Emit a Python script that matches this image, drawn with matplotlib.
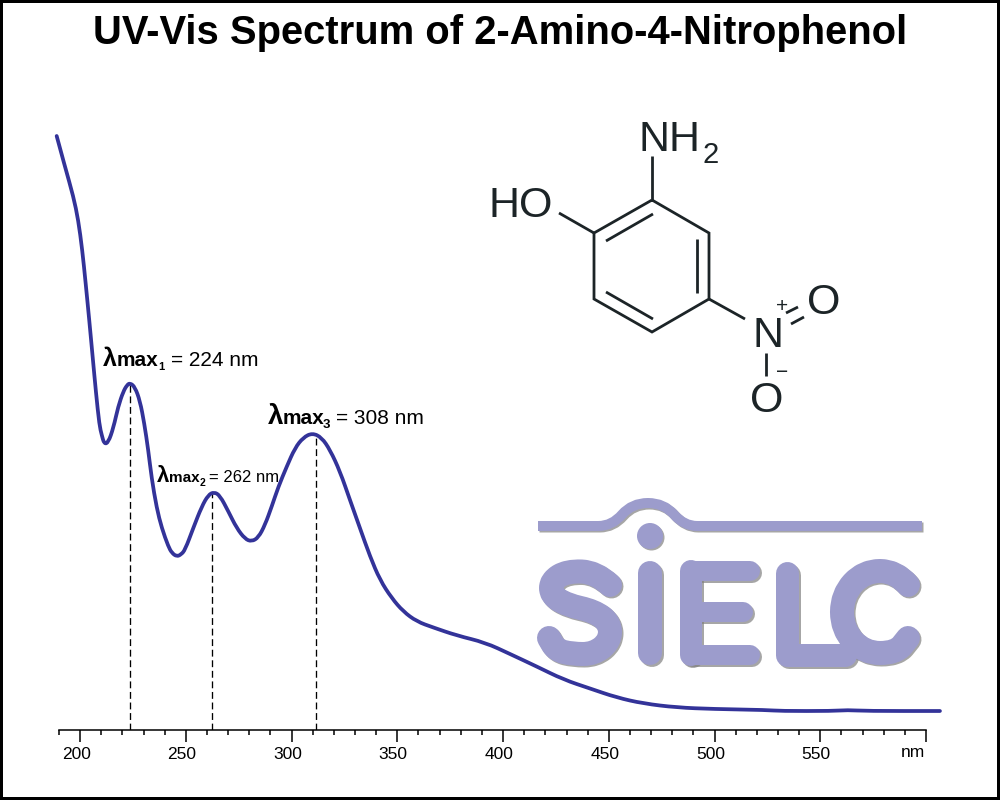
import matplotlib
matplotlib.use('Agg')
import matplotlib.pyplot as plt
from matplotlib.path import Path
from matplotlib.patches import PathPatch, Circle
from matplotlib.transforms import ScaledTranslation

plt.rcParams['font.family'] = ['Liberation Sans', 'DejaVu Sans']

# Spectrum
wavelength = [188.9, 192.8, 196.8, 199.1, 201.0, 202.6, 204.3, 205.9, 207.5, 209.1, 210.2, 211.4,
              213.3, 215.7, 218.0, 220.4, 222.2, 223.6, 225.9, 228.3, 230.3, 232.2, 233.8, 236.2,
              238.6, 241.7, 243.4, 245.7, 247.7, 249.6, 253.5, 257.5, 260.6, 263.3, 266.1, 270.1,
              274.0, 278.0, 281.1, 284.3, 287.4, 290.6, 293.7, 297.7, 301.6, 305.5, 309.8, 314.2,
              318.2, 322.9, 327.6, 332.3, 337.1, 341.8, 347.3, 352.8, 359.2, 367.0, 378.1, 391.5,
              403.3, 415.9, 428.5, 441.1, 453.7, 466.3, 482.1, 499.3, 524.8, 531.0, 556.0, 562.7,
              572.1, 606.6]
absorbance = [1.188, 1.127, 1.067, 1.020, 0.960, 0.894, 0.820, 0.747, 0.674, 0.610, 0.590, 0.572,
              0.575, 0.604, 0.647, 0.677, 0.690, 0.694, 0.686, 0.658, 0.614, 0.560, 0.504, 0.444,
              0.404, 0.367, 0.354, 0.347, 0.351, 0.360, 0.404, 0.447, 0.470, 0.476, 0.469, 0.437,
              0.404, 0.382, 0.377, 0.385, 0.410, 0.447, 0.486, 0.527, 0.564, 0.585, 0.594, 0.585,
              0.560, 0.517, 0.460, 0.404, 0.347, 0.300, 0.264, 0.237, 0.217, 0.205, 0.189, 0.175,
              0.152, 0.127, 0.101, 0.083, 0.065, 0.053, 0.045, 0.042, 0.040, 0.038, 0.038, 0.040,
              0.038, 0.038]
peak_x = [223.7, 262.5, 311.3]
peak_y = [0.692, 0.475, 0.592]
major_ticks = [200, 250, 300, 350, 400, 450, 500, 550, 600]
major_labels = ['200', '250', '300', '350', '400', '450', '500', '550', '']
minor_ticks = [190, 210, 220, 230, 240, 260, 270, 280, 290, 310, 320, 330, 340, 360, 370, 380,
               390, 410, 420, 430, 440, 460, 470, 480, 490, 510, 520, 530, 540, 560, 570, 580, 590]

BLUE = '#333399'
LOGO = '#9c9ccc'
INK = '#1c2427'


def smooth_path(points):
    # rounded path through the midpoints of the given points
    verts = [points[0]]
    codes = [Path.MOVETO]
    for i in range(1, len(points) - 1):
        nxt = points[i + 1]
        mid = ((points[i][0] + nxt[0]) / 2, (points[i][1] + nxt[1]) / 2)
        verts += [points[i], mid]
        codes += [Path.CURVE3, Path.CURVE3]
    verts.append(points[-1])
    codes.append(Path.LINETO)
    return Path(verts, codes)


fig = plt.figure(figsize=(10, 8), dpi=100, facecolor='white', edgecolor='black', linewidth=4.3)

# spectrum axes, only the bottom spine is shown
ax = fig.add_axes([0.059, 70 / 800, 0.867, 730 / 800])
ax.patch.set_visible(False)
ax.set_xlim(190, 600)
ax.set_ylim(0, 1.46)
for side in ['top', 'left', 'right']:
    ax.spines[side].set_visible(False)
ax.spines['bottom'].set_linewidth(1.1)
ax.yaxis.set_visible(False)
ax.set_xticks(major_ticks)
ax.set_xticklabels(major_labels, fontsize=12.5)
ax.set_xticks(minor_ticks, minor=True)
ax.tick_params(axis='x', which='major', length=8.6, width=1.1, pad=3.5)
ax.tick_params(axis='x', which='minor', length=3.8, width=1.1)

# numbers sit a little left of their ticks
shift = ScaledTranslation(-4 / 100, 0, fig.dpi_scale_trans)
for lab in ax.get_xticklabels():
    lab.set_transform(lab.get_transform() + shift)

ax.vlines(peak_x, 0, peak_y, colors='black', linestyles=(0, (5.2, 2.8)), linewidth=0.95)
ax.add_patch(PathPatch(smooth_path(list(zip(wavelength, absorbance))), fill=False, edgecolor=BLUE,
                       linewidth=2.7, capstyle='round', joinstyle='round', clip_on=False, zorder=4))

# overlay in pixel coordinates for the title, labels, structure and logo
ov = fig.add_axes([0, 0, 1, 1], zorder=3)
ov.set_xlim(0, 1000)
ov.set_ylim(800, 0)
ov.axis('off')

ov.text(500, 44, 'UV-Vis Spectrum of 2-Amino-4-Nitrophenol', ha='center', va='baseline',
        fontsize=28.8, fontweight='bold', color='black')
ov.text(925, 757, 'nm', ha='right', va='baseline', fontsize=12.5)


def put(x, y, s, size, weight='normal', color='black'):
    ov.text(x, y, s, fontsize=size, fontweight=weight, color=color, ha='left', va='baseline')


# lambda max labels, built from pieces
put(103, 366, 'λ', 18, 'bold')
put(117, 366, 'max', 15, 'bold')
put(158, 370, '1', 8, 'bold')
put(171, 366, '= 224 nm', 15)

put(157, 482, 'λ', 16, 'bold')
put(169, 482, 'max', 11, 'bold')
put(200, 486, '2', 7.5, 'bold')
put(209, 482, '= 262 nm', 12)

put(268, 424, 'λ', 20, 'bold')
put(283, 424, 'max', 15, 'bold')
put(323, 428, '3', 9.5, 'bold')
put(336, 424, '= 308 nm', 15)

# structure of the compound
bonds = [
    [(652, 200), (709, 233), (709, 299), (652, 332), (594, 299), (594, 233), (652, 200)],
    [(606, 241), (653, 214)],
    [(697, 239), (697, 293)],
    [(606, 292), (653, 319)],
    [(652, 200), (652, 156)],
    [(594, 233), (559, 213)],
    [(709, 299), (745, 319)],
    [(786, 313), (798, 307)],
    [(791, 324), (804, 317)],
    [(766, 353), (766, 376)],
]
for bond in bonds:
    xs, ys = zip(*bond)
    ov.plot(xs, ys, color=INK, linewidth=2.0, solid_joinstyle='miter', solid_capstyle='butt')

put(638, 151, 'NH', 31, color=INK)
put(702, 163, '2', 21, color=INK)
put(489, 217, 'HO', 31, color=INK)
put(752, 347, 'N', 31, color=INK)
ov.text(824, 299, 'O', fontsize=31, color=INK, ha='center', va='center_baseline')
ov.text(767, 397, 'O', fontsize=31, color=INK, ha='center', va='center_baseline')
ov.text(782, 304, '+', fontsize=15, color=INK, ha='center', va='center_baseline')
ov.text(782, 370, '−', fontsize=15, color=INK, ha='center', va='center_baseline')

# logo strokes, shadows go underneath all of the letter fills
to_shadow = ov.transData + ScaledTranslation(1.5 / 100, -1.5 / 100, fig.dpi_scale_trans)


def stroke(points, width, curved=True, cap='round'):
    path = smooth_path(points) if curved else Path(points)
    for color, alpha, order, trans in [('#808080', 0.7, 1, to_shadow), (LOGO, 1, 2, ov.transData)]:
        ov.add_patch(PathPatch(path, fill=False, edgecolor=color, alpha=alpha, linewidth=width * 0.72,
                               capstyle=cap, joinstyle='round', zorder=order, transform=trans))


stroke([(538, 526), (585, 526), (612, 526), (632, 503), (664, 503), (684, 526), (710, 526),
        (922, 526)], 10, cap='butt')
ov.add_patch(Circle((650, 536), 13, facecolor='#808080', edgecolor='none', alpha=0.7, zorder=1,
                    transform=to_shadow))
ov.add_patch(Circle((650, 536), 13, facecolor=LOGO, edgecolor='none', zorder=2))
# S
stroke([(610, 585), (596, 572), (567, 571), (551, 581), (551, 595), (567, 605), (594, 611), (610, 623),
        (610, 641), (594, 654), (572, 654), (556, 650), (549, 638)], 24)
# I
stroke([(650, 573), (650, 653)], 24, curved=False)
# E
stroke([(691, 571), (691, 655)], 22, curved=False)
stroke([(691, 571), (750, 571)], 20, curved=False)
stroke([(691, 612), (743, 612)], 20, curved=False)
stroke([(691, 655), (750, 655)], 20, curved=False)
# L
stroke([(787, 573), (787, 655), (845, 655)], 23, curved=False)
# C
stroke([(908, 585), (896, 571), (864, 571), (842, 595), (842, 629), (864, 653), (896, 653),
        (908, 638)], 24)

fig.savefig('out.png', dpi=100, facecolor='white', edgecolor='black')
